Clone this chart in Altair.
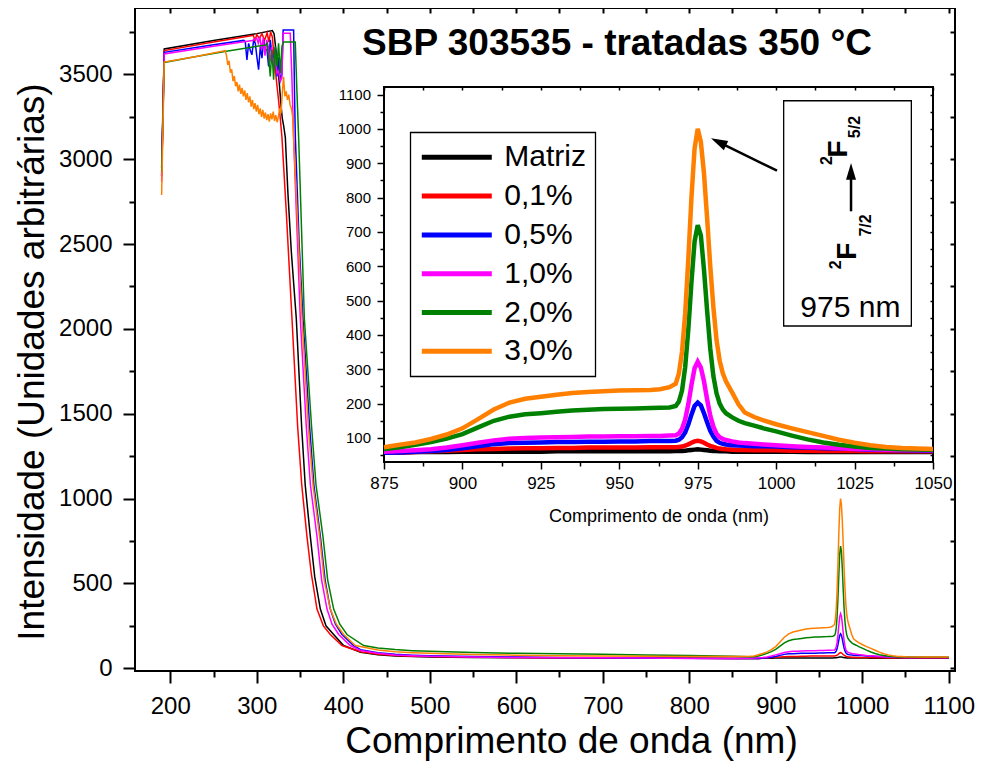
import altair as alt
import pandas as pd

FONT = "Liberation Sans"
TITLE = "SBP 303535 - tratadas 350 °C"
X_TITLE = "Comprimento de onda (nm)"
Y_TITLE = "Intensidade (Unidades arbitrárias)"
SERIES = ["Matriz", "0,1%", "0,5%", "1,0%", "2,0%", "3,0%"]
COLORS = ["#000000", "#ff0000", "#0000ff", "#ff00ff", "#008000", "#ff8000"]

MAIN_X_TICKS = [200, 250, 300, 350, 400, 450, 500, 550, 600, 650, 700, 750, 800, 850, 900, 950, 1000, 1050, 1100]
MAIN_Y_TICKS = [0, 250, 500, 750, 1000, 1250, 1500, 1750, 2000, 2250, 2500, 2750, 3000, 3250, 3500, 3750]
INSET_X_TICKS = [875, 887.5, 900, 912.5, 925, 937.5, 950, 962.5, 975, 987.5, 1000, 1012.5, 1025, 1037.5, 1050]
INSET_Y_TICKS = [50, 100, 150, 200, 250, 300, 350, 400, 450, 500, 550, 600, 650, 700, 750, 800, 850, 900, 950, 1000, 1050, 1100]

MAIN_X_DOMAIN = [159.2, 1107.3]
MAIN_Y_DOMAIN = [-16, 3891]
INSET_X_DOMAIN = [875, 1050]
INSET_Y_DOMAIN = [30, 1122]

# ---- spectra, UV / visible part (wavelength nm, intensity) ----
BLACK_NM = [190, 193, 250, 300, 318, 320, 322, 324, 326, 328, 329.5, 331, 333, 336, 340, 345.7, 351.9, 356, 361.9, 367,
            373.5, 380, 388.9, 400.4, 420, 440, 460, 480, 500, 550, 600, 650, 700, 750, 800, 850, 870]
BLACK_I = [2950, 3650, 3700, 3740, 3758, 3740, 3650, 3560, 3450, 3320, 3240, 3200, 3129, 2800, 2450, 2061, 1420, 1080, 777, 540,
           349, 250, 199, 134, 95, 80, 72, 69, 67, 64, 62, 61, 60, 60, 59, 58, 58]

RED_NM = [190, 193, 250, 290, 296, 298, 300, 303, 306, 309, 312, 314, 316, 318, 320, 323, 325.2, 327, 329.1, 334,
          340.7, 347.3, 352, 358, 363, 369.6, 377, 385, 398.5, 420, 440, 460, 480, 500, 550, 600, 650, 700, 750, 800, 850, 870]
RED_I = [2900, 3640, 3690, 3725, 3730, 3700, 3735, 3710, 3740, 3700, 3745, 3690, 3750, 3720, 3600, 3450, 3348, 3250, 3129, 2700,
         2061, 1420, 1080, 777, 560, 349, 250, 199, 134, 97, 82, 75, 71, 69, 66, 64, 62, 61, 60, 59, 57, 57]

BLUE_NM = [190, 193, 250, 285, 286.7, 288.6, 290.6, 292.5, 294.4, 296.3, 298.3, 300.2, 302.1, 304.1, 306, 307.9, 309.8, 311.8,
           313.7, 315.6, 317.5, 319.5, 321.4, 323.3, 325.2, 327.2, 329, 330.5, 342.6, 343.6, 344.6, 349, 353.4, 361.1, 366,
           373.5, 379, 385, 391, 398.5, 412, 420, 440, 460, 480, 500, 550, 600, 650, 700, 750, 800, 850, 870]
BLUE_I = [2900, 3630, 3675, 3700, 3693, 3585, 3683, 3640, 3615, 3700, 3683, 3600, 3527, 3664, 3595, 3703, 3650, 3644,
          3546, 3703, 3620, 3585, 3660, 3488, 3600, 3468, 3500, 3761, 3761, 3400, 3129, 2500, 2061, 1420, 1080,
          777, 520, 349, 260, 199, 134, 110, 92, 82, 77, 74, 69, 66, 63, 62, 60, 59, 57, 57]

MAG_NM = [190, 193, 250, 295, 300, 301.7, 303.5, 305.5, 307.5, 309.5, 311.5, 313.4, 315.3, 317.3, 319.5, 321.5, 323.3, 325.2,
          327.2, 329, 330.5, 338.7, 340.5, 342.6, 350.3, 357.3, 362, 369.6, 375, 381.2, 387, 394.7, 408.1, 420, 440, 460,
          480, 500, 550, 600, 650, 700, 750, 800, 850, 870]
MAG_I = [2867, 3620, 3665, 3700, 3712, 3683, 3722, 3644, 3715, 3610, 3703, 3660, 3575, 3660, 3546, 3640, 3505, 3520,
         3458, 3480, 3742, 3742, 3500, 3129, 2061, 1420, 1080, 777, 520, 349, 260, 199, 134, 105, 88, 79,
         74, 71, 66, 63, 62, 62, 60, 58, 58, 59]

GREEN_NM = [190, 193, 230, 263, 300, 310, 311.8, 313.7, 315.6, 317.5, 319.5, 321.4, 323.3, 325.2, 327.2, 329.1, 331, 344.5,
            346.4, 348.4, 355, 363.4, 368.5, 376.5, 382, 388.9, 396, 404.3, 423.6, 440, 460, 480, 500, 550, 600, 650, 700,
            750, 800, 850, 870]
GREEN_I = [2926, 3570, 3605, 3635, 3665, 3672, 3683, 3600, 3488, 3644, 3468, 3664, 3546, 3683, 3507, 3664, 3690, 3690,
           3400, 3129, 2061, 1420, 1080, 777, 520, 349, 260, 199, 134, 120, 110, 104, 100, 93, 88, 85, 83,
           79, 75, 71, 68]

ORANGE_NM = [190, 193, 230, 263.6, 265, 266.5, 268, 269.5, 271, 272.5, 274, 275.5, 277, 278.5, 280, 281.5, 283, 284.5, 286,
             287.5, 289, 290.5, 292, 293.5, 295, 296.5, 298, 299.5, 301, 302.5, 304, 305.5, 307, 308.5, 310, 311.5, 313,
             314.5, 316, 317.5, 319, 320.5, 322, 323.5, 325, 326.5, 328, 329.5, 331, 332.5, 334, 335.5, 337, 338.5, 340,
             341.5, 343, 346, 349, 352.3, 359.6, 365, 372.7, 378, 385, 392, 400.4, 414, 440, 460, 480, 500, 550, 600, 650,
             700, 750, 800, 850, 870]
ORANGE_I = [2789, 3572, 3605, 3640, 3610, 3555, 3580, 3510, 3530, 3460, 3490, 3430, 3455, 3400, 3440, 3385, 3420, 3370, 3405,
            3350, 3390, 3335, 3370, 3310, 3350, 3295, 3330, 3280, 3320, 3265, 3300, 3250, 3290, 3240, 3275, 3230, 3265,
            3222, 3270, 3235, 3280, 3225, 3260, 3218, 3250, 3300, 3270, 3390, 3485, 3370, 3400, 3350, 3380, 3320, 3300,
            3250, 3080, 2750, 2420, 2061, 1420, 1080, 777, 520, 349, 260, 199, 134, 108, 98, 92, 88, 81, 77, 74,
            72, 71, 70, 70, 71]

# ---- near-infrared part, common wavelength grid ----
TAIL_NM = [875, 880, 885, 890, 895, 900, 905, 910, 915, 920, 925, 930, 935, 940, 945, 950, 955, 960, 963, 966, 968, 969,
           970, 971, 972, 973, 974, 975, 976, 977, 978, 979, 980, 981, 982, 983, 984, 986, 988, 990, 993, 996,
           1000, 1005, 1010, 1015, 1020, 1025, 1030, 1035, 1040, 1050, 1075, 1100]
BLACK_TAIL = [58, 58, 59, 59, 59, 60, 60, 60, 60, 60, 60, 61, 61, 61, 61, 61, 61, 61, 61, 61, 62, 62,
              62, 63, 64, 65, 66, 67, 66, 65, 64, 63, 62, 62, 61, 61, 61, 60, 60, 60, 60, 60,
              60, 60, 59, 59, 59, 59, 59, 59, 59, 59, 59, 59]
RED_TAIL = [57, 58, 59, 61, 63, 65, 67, 68, 69, 70, 70, 71, 71, 72, 72, 72, 72, 73, 73, 73, 73, 74,
            75, 78, 81, 86, 90, 92, 90, 86, 81, 77, 74, 71, 69, 68, 67, 66, 65, 65, 64, 64,
            64, 63, 63, 62, 62, 62, 61, 61, 61, 61, 61, 61]
BLUE_TAIL = [57, 58, 60, 62, 65, 70, 76, 82, 85, 86, 87, 88, 88, 89, 89, 90, 90, 91, 91, 91, 92, 95,
             102, 116, 139, 168, 193, 203, 195, 172, 146, 121, 104, 92, 86, 83, 81, 79, 78, 77, 76, 76,
             75, 73, 72, 70, 69, 68, 66, 65, 64, 63, 63, 63]
MAG_TAIL = [60, 62, 64, 67, 72, 79, 86, 93, 98, 100, 101, 102, 103, 104, 104, 105, 105, 106, 106, 107, 108, 113,
            127, 154, 198, 254, 303, 322, 305, 265, 212, 165, 133, 112, 102, 97, 94, 90, 87, 85, 83, 81,
            79, 76, 74, 72, 70, 68, 67, 66, 65, 64, 64, 64]
GREEN_TAIL = [68, 73, 80, 88, 98, 111, 131, 150, 162, 169, 172, 176, 180, 182, 184, 185, 186, 187, 188, 189, 193, 206,
              238, 306, 416, 553, 672, 720, 690, 590, 470, 360, 280, 230, 200, 183, 172, 160, 150, 143, 136, 128,
              119, 107, 96, 87, 80, 75, 71, 69, 67, 66, 65, 65]
ORANGE_TAIL = [73, 80, 87, 97, 110, 128, 155, 183, 203, 214, 220, 226, 231, 234, 236, 238, 239, 240, 242, 248, 258, 288,
               351, 462, 620, 799, 943, 1000, 962, 870, 740, 600, 480, 385, 325, 288, 265, 232, 198, 174, 161, 151,
               140, 128, 117, 106, 95, 86, 79, 74, 71, 68, 66, 66]

SPECTRA = [
    ("Matriz", BLACK_NM, BLACK_I, BLACK_TAIL),
    ("0,1%", RED_NM, RED_I, RED_TAIL),
    ("0,5%", BLUE_NM, BLUE_I, BLUE_TAIL),
    ("1,0%", MAG_NM, MAG_I, MAG_TAIL),
    ("2,0%", GREEN_NM, GREEN_I, GREEN_TAIL),
    ("3,0%", ORANGE_NM, ORANGE_I, ORANGE_TAIL),
]

rows = []
for k, (name, nm, inten, tail) in enumerate(SPECTRA):
    if len(nm) != len(inten) or len(tail) != len(TAIL_NM):
        print("length mismatch", name, len(nm), len(inten), len(tail), len(TAIL_NM))
    for w, v in zip(list(nm) + TAIL_NM, list(inten) + tail):
        rows.append({"serie": name, "wl": w, "inten": v, "k": k})
df = pd.DataFrame(rows)
inset_df = df[(df["wl"] >= INSET_X_DOMAIN[0]) & (df["wl"] <= INSET_X_DOMAIN[1])].reset_index(drop=True)

# ---- layout (pixels inside the plot area) ----
W, H = 820, 663
IN_X_RANGE = [249, 798]
IN_Y_RANGE = [454, 79]


def x_main():
    return alt.Scale(domain=MAIN_X_DOMAIN, nice=False, zero=False)


def y_main():
    return alt.Scale(domain=MAIN_Y_DOMAIN, nice=False, zero=False)


def x_in():
    return alt.Scale(domain=INSET_X_DOMAIN, range=IN_X_RANGE, nice=False, zero=False)


def y_in():
    return alt.Scale(domain=INSET_Y_DOMAIN, range=IN_Y_RANGE, nice=False, zero=False)


legend = alt.Legend(title=None, orient="none", legendX=275.3, legendY=124.3, direction="vertical",
                    symbolType="stroke", symbolSize=4900, symbolStrokeWidth=5, clipHeight=32, rowPadding=6.8,
                    labelFont=FONT, labelFontSize=30, labelColor="black", labelOffset=10, padding=9,
                    strokeColor="black", fillColor="white", labelLimit=300)
color = alt.Color("serie:N", scale=alt.Scale(domain=SERIES, range=COLORS), legend=legend, sort=SERIES)

# ---- main chart ----
main_x_axis = alt.Axis(orient="bottom", values=MAIN_X_TICKS, format="d",
                       labelExpr="datum.value % 100 === 0 ? datum.label : ''",
                       tickSize={"condition": {"test": "datum.value % 100 === 0", "value": 12}, "value": 6},
                       tickWidth=2, domain=False, grid=False, labelFlush=False, labelOverlap=False,
                       labelFontSize=24, labelPadding=11,
                       title=X_TITLE, titleFontSize=37, titleFontWeight="normal",
                       titleX=436, titleY=81, titleBaseline="alphabetic", titleAlign="center")
main_y_axis = alt.Axis(orient="left", values=MAIN_Y_TICKS, format="d",
                       labelExpr="datum.value % 500 === 0 ? datum.label : ''",
                       tickSize={"condition": {"test": "datum.value % 500 === 0", "value": 12}, "value": 6},
                       tickWidth=2, domain=False, grid=False, labelFlush=False, labelOverlap=False,
                       labelFontSize=24, labelPadding=11,
                       title=Y_TITLE, titleFontSize=37, titleFontWeight="normal", titleAngle=270,
                       titleX=-92, titleY=353.5, titleBaseline="alphabetic", titleAlign="center")

main_lines = alt.Chart(df).mark_line(strokeWidth=1.5).encode(
    x=alt.X("wl:Q", scale=x_main(), axis=main_x_axis),
    y=alt.Y("inten:Q", scale=y_main(), axis=main_y_axis),
    color=color,
)

main_frame_df = pd.DataFrame({"x0": [MAIN_X_DOMAIN[0]], "x1": [MAIN_X_DOMAIN[1]],
                              "y0": [MAIN_Y_DOMAIN[0]], "y1": [MAIN_Y_DOMAIN[1]]})
main_mirror = alt.Chart(main_frame_df).mark_rect(opacity=0).encode(
    x=alt.X("x0:Q", scale=x_main(), axis=alt.Axis(orient="bottom", offset=-H, values=MAIN_X_TICKS, labels=False,
                                                  tickSize=5, tickWidth=2, domain=False, grid=False, title=None,
                                                  zindex=1)),
    x2="x1:Q",
    y=alt.Y("y0:Q", scale=y_main(), axis=alt.Axis(orient="left", offset=-W, values=MAIN_Y_TICKS, labels=False,
                                                  tickSize=5, tickWidth=2, domain=False, grid=False, title=None,
                                                  zindex=1)),
    y2="y1:Q",
)

# ---- inset ----
inset_x_axis = alt.Axis(orient="bottom", offset=IN_Y_RANGE[0] - H, values=INSET_X_TICKS, format="d",
                        labelExpr="(datum.value - 875) % 25 === 0 ? datum.label : ''",
                        tickSize={"condition": {"test": "(datum.value - 875) % 25 === 0", "value": 7}, "value": 4},
                        tickWidth=1.5, domain=False, grid=False, labelFlush=False, labelOverlap=False,
                        labelFontSize=17, labelPadding=6.5,
                        title=X_TITLE, titleFontSize=18, titleFontWeight="normal",
                        titleY=59, titleBaseline="alphabetic", zindex=1)
inset_y_axis = alt.Axis(orient="left", offset=-IN_X_RANGE[0], values=INSET_Y_TICKS, format="d",
                        labelExpr="datum.value % 100 === 0 ? datum.label : ''",
                        tickSize={"condition": {"test": "datum.value % 100 === 0", "value": 7}, "value": 4},
                        tickWidth=1.5, domain=False, grid=False, labelFlush=False, labelOverlap=False,
                        labelFontSize=15, labelPadding=6.5, title=None, zindex=1)

inset_frame_df = pd.DataFrame({"x0": [INSET_X_DOMAIN[0]], "x1": [INSET_X_DOMAIN[1]],
                               "y0": [INSET_Y_DOMAIN[0]], "y1": [INSET_Y_DOMAIN[1]]})
inset_frame = alt.Chart(inset_frame_df).mark_rect(fill="white", stroke="black", strokeWidth=2).encode(
    x=alt.X("x0:Q", scale=x_in(), axis=inset_x_axis), x2="x1:Q",
    y=alt.Y("y0:Q", scale=y_in(), axis=inset_y_axis), y2="y1:Q",
)
inset_lines = alt.Chart(inset_df).mark_line(strokeWidth=4.5).encode(
    x=alt.X("wl:Q", scale=x_in(), axis=None),
    y=alt.Y("inten:Q", scale=y_in(), axis=None),
    color=color,
)

# annotation (in inset data coordinates)
box_df = pd.DataFrame({"x0": [1002.4], "x1": [1043.1], "y0": [426], "y1": [1082]})
note_box = alt.Chart(box_df).mark_rect(fill="white", stroke="black", strokeWidth=1.3).encode(
    x=alt.X("x0:Q", scale=x_in(), axis=None), x2="x1:Q",
    y=alt.Y("y0:Q", scale=y_in(), axis=None), y2="y1:Q",
)
arrow_df = pd.DataFrame({"x0": [1000.28, 1023.87], "x1": [981.54, 1023.87],
                         "y0": [878.3, 760.0], "y1": [962.5, 877.4]})
arrow_shafts = alt.Chart(arrow_df).mark_rule(strokeWidth=2.5, color="black").encode(
    x=alt.X("x0:Q", scale=x_in(), axis=None), x2="x1:Q",
    y=alt.Y("y0:Q", scale=y_in(), axis=None), y2="y1:Q",
)
head_df = pd.DataFrame({"x": [979.24, 1023.87], "y": [972.6, 900.7], "ang": [296, 0]})
arrow_heads = alt.Chart(head_df).mark_point(shape="M0,0L0.6,2L-0.6,2Z", filled=True, size=279,
                                            color="black", opacity=1).encode(
    x=alt.X("x:Q", scale=x_in(), axis=None),
    y=alt.Y("y:Q", scale=y_in(), axis=None),
    angle=alt.Angle("ang:Q", scale=None),
)
term_df = pd.DataFrame({
    "x": [1019.95, 1016.06, 1025.24, 1022.85, 1019.09, 1028.55],
    "y": [941.5, 908.0, 1005.5, 643.6, 604.6, 718.7],
    "t": ["F", "2", "5/2", "F", "2", "7/2"],
    "fs": [28, 16, 16, 28, 16, 16],
})
term_text = alt.Chart(term_df).mark_text(font=FONT, fontWeight="bold", angle=270, align="center",
                                         baseline="middle", color="black").encode(
    x=alt.X("x:Q", scale=x_in(), axis=None),
    y=alt.Y("y:Q", scale=y_in(), axis=None),
    text="t:N",
    size=alt.Size("fs:Q", scale=None, legend=None),
)
nm_df = pd.DataFrame({"x": [1023.65], "y": [478.5], "t": ["975 nm"]})
nm_text = alt.Chart(nm_df).mark_text(font=FONT, fontSize=30, align="center", baseline="middle",
                                     color="black").encode(
    x=alt.X("x:Q", scale=x_in(), axis=None),
    y=alt.Y("y:Q", scale=y_in(), axis=None),
    text="t:N",
)

inset_mirror = alt.Chart(inset_frame_df).mark_rect(opacity=0).encode(
    x=alt.X("x0:Q", scale=x_in(), axis=alt.Axis(orient="bottom", offset=IN_Y_RANGE[1] - H, values=INSET_X_TICKS,
                                                labels=False, tickSize=3, tickWidth=1.5, domain=False, grid=False,
                                                title=None, zindex=1)),
    x2="x1:Q",
    y=alt.Y("y0:Q", scale=y_in(), axis=alt.Axis(orient="left", offset=-IN_X_RANGE[1], values=INSET_Y_TICKS,
                                                labels=False, tickSize=3, tickWidth=1.5, domain=False, grid=False,
                                                title=None, zindex=1)),
    y2="y1:Q",
)

title_layer = alt.Chart(pd.DataFrame({"t": [TITLE]})).mark_text(
    font=FONT, fontSize=37, fontWeight="bold", align="center", baseline="alphabetic", color="black"
).encode(text="t:N", x=alt.value(482), y=alt.value(47))

chart = alt.layer(
    main_lines, main_mirror, inset_frame, inset_lines, note_box, arrow_shafts, arrow_heads,
    term_text, nm_text, inset_mirror, title_layer
).resolve_scale(
    x="independent", y="independent"
).properties(
    width=W, height=H,
    padding={"left": 127, "top": 0, "right": 21, "bottom": 90},
    autosize=alt.AutoSizeParams(type="none"),
    background="white",
).configure_view(
    stroke="black", strokeWidth=2
).configure_axis(
    labelFont=FONT, titleFont=FONT, labelColor="black", titleColor="black", tickColor="black"
).configure_legend(
    strokeWidth=1.3
)

chart.save("out.html", embed_options={"renderer": "svg", "actions": False})
